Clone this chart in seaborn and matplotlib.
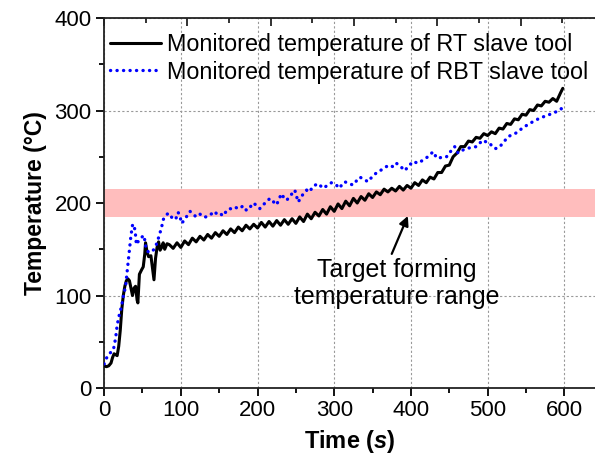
import matplotlib
matplotlib.use("Agg")
import matplotlib.pyplot as plt
import seaborn as sns
import pandas as pd
from matplotlib.ticker import MultipleLocator

# ---- data ----
rt_time = [0, 3, 6, 9, 11, 13, 15, 17, 19, 21, 23, 25, 27, 29, 31, 33, 35, 37, 39, 41,
           43, 44, 46, 49, 51, 53, 54, 56, 58, 61, 63, 65, 67, 69, 71, 73, 75, 77, 79, 82,
           85, 90, 95, 100, 105, 110, 115, 120, 125, 130, 135, 140, 145, 150, 155, 160,
           165, 170, 175, 180, 185, 190, 195, 200, 205, 210, 215, 220, 225, 230, 235, 240,
           245, 250, 255, 260, 265, 270, 275, 280, 285, 290, 295, 300, 305, 310, 315, 320,
           325, 330, 335, 340, 345, 350, 355, 360, 365, 370, 375, 380, 385, 390, 395, 400,
           405, 410, 415, 420, 425, 430, 435, 440, 445, 450, 455, 460, 465, 470, 475, 480,
           485, 490, 495, 500, 505, 510, 515, 520, 525, 530, 535, 540, 545, 550, 555, 560,
           565, 570, 575, 580, 585, 590, 595, 598]
rt_temp = [24, 23, 24, 27, 33, 37, 36, 35, 45, 62, 85, 100, 110, 116, 118, 116, 108, 100, 108, 110,
           95, 92, 123, 128, 131, 145, 157, 147, 142, 143, 130, 117, 140, 152, 158, 149, 152, 157, 150, 156,
           155, 151, 157, 152, 159, 155, 162, 158, 164, 160, 166, 162, 168, 164, 170, 166,
           172, 168, 174, 170, 176, 172, 177, 173, 179, 174, 180, 175, 181, 176, 182, 177,
           183, 178, 185, 180, 188, 183, 190, 186, 193, 188, 196, 191, 199, 194, 202, 197,
           205, 200, 207, 203, 210, 206, 212, 209, 215, 212, 216, 213, 218, 214, 219, 216,
           222, 219, 225, 222, 228, 226, 233, 233, 240, 241, 250, 254, 261, 261, 267, 266,
           271, 270, 275, 273, 277, 275, 281, 280, 286, 285, 291, 290, 296, 295, 301, 300,
           306, 305, 310, 309, 313, 310, 319, 324]

rbt_time = [0, 4, 8, 12, 15, 17, 20, 22.6, 25, 28, 30, 32.6, 35, 37, 39, 41, 42, 44, 46.5, 49,
            52, 55, 58, 62, 65, 68, 70, 72.6, 75, 77, 80, 83.5, 87, 90, 94, 96.5, 99, 101, 105, 108,
            112, 116, 120, 125, 129, 133.5, 138, 144, 147, 151, 155, 160, 164, 168, 172, 177, 181,
            185.7, 190, 194, 198, 203, 207, 211.7, 216, 220, 224.8, 228, 231, 235, 238, 243, 248.6,
            253, 258, 264, 268, 272, 279, 285.5, 291, 296.5, 302, 307, 310, 313.7, 319, 324.6, 329,
            333.4, 338, 344, 350, 357, 362, 367, 372.5, 377, 381, 386, 392, 397, 403, 409, 416, 422,
            429, 432, 435.5, 441, 446.4, 451, 457, 461.5, 467, 472.5, 479, 485.5, 490, 494, 498, 503,
            506, 509, 512, 516, 520, 524, 527, 533, 540, 545, 551, 557, 564, 568, 572, 578, 585.5,
            590, 596, 600]
rbt_temp = [26, 34, 38, 41, 54, 68, 80, 88, 99, 110, 126, 146, 165, 176, 177, 165, 155, 158, 160, 163,
            165, 149, 147, 147, 150, 155, 160, 167, 174, 182, 186, 189, 186, 182, 184, 190, 185, 178, 182, 186,
            191, 188, 185, 188, 185, 185, 187, 191, 188, 189, 186, 192, 194, 193, 195, 194, 197,
            192, 195, 200, 198, 194, 198, 201, 205, 202, 198, 204, 210, 205, 203, 208, 214,
            201, 208, 214, 212, 218, 221, 216, 219, 222, 220, 216, 220, 223, 221, 219.5, 224,
            228, 226, 223, 229, 234, 236, 239, 241, 239, 243, 240, 235, 240, 245, 243, 246.5, 250,
            255.5, 251, 248, 250, 250, 255, 261, 254, 257, 259, 260, 261, 265, 268, 266, 264.5,
            261, 259, 259, 261, 265, 269, 272, 274, 277, 281, 284, 287, 290, 292, 293, 295, 297,
            299, 302, 300]

legend_labels = ["Monitored temperature of RT slave tool",
                 "Monitored temperature of RBT slave tool"]
band_low, band_high = 185, 215
annotation_text = "Target forming\ntemperature range"

# ---- style ----
sns.set_style("ticks")
plt.rcParams['font.family'] = ['Liberation Sans', 'DejaVu Sans']
plt.rcParams['mathtext.fontset'] = 'custom'
plt.rcParams['mathtext.it'] = 'Liberation Sans:italic:bold'
plt.rcParams['mathtext.rm'] = 'Liberation Sans:bold'
plt.rcParams['text.color'] = 'black'
plt.rcParams['axes.labelcolor'] = 'black'

fig = plt.figure(figsize=(5.95, 4.63), dpi=100)
ax = fig.add_axes([0.175, 0.162, 0.825, 0.799])

df_rt = pd.DataFrame({"t": rt_time, "T": rt_temp})
df_rbt = pd.DataFrame({"t": rbt_time, "T": rbt_temp})

ax.axhspan(band_low, band_high, color='#ffbdbd', lw=0, zorder=1)

sns.lineplot(data=df_rt, x="t", y="T", ax=ax, color='black', lw=2.2,
             label=legend_labels[0], sort=False, zorder=3, estimator=None)
sns.lineplot(data=df_rbt, x="t", y="T", ax=ax, color='#0000ff', lw=2.4,
             label=legend_labels[1], sort=False, zorder=4, estimator=None)
blue_line = ax.get_lines()[-1]
blue_line.set_linestyle((0, (0.05, 1.9)))
blue_line.set_dash_capstyle('round')

ax.set_xlim(0, 640)
ax.set_ylim(0, 400)
ax.xaxis.set_major_locator(MultipleLocator(100))
ax.xaxis.set_minor_locator(MultipleLocator(50))
ax.yaxis.set_major_locator(MultipleLocator(100))
ax.yaxis.set_minor_locator(MultipleLocator(50))
ax.tick_params(axis='both', which='major', labelsize=16, length=6, width=1.3,
               direction='out', pad=3, colors='black')
ax.tick_params(axis='both', which='minor', length=3.5, width=1.3, direction='out', colors='black')
ax.grid(True, which='major', color='#999999', lw=0.8, ls=(0, (2, 2)))
for s in ['left', 'bottom', 'top']:
    ax.spines[s].set_linewidth(1.3)
    ax.spines[s].set_color('#222222')
ax.spines['right'].set_visible(False)

# top axis ticks (inward, no labels)
top = ax.twiny()
top.set_xlim(0, 589)
top.xaxis.set_major_locator(MultipleLocator(100))
top.xaxis.set_minor_locator(MultipleLocator(50))
top.tick_params(axis='x', which='major', direction='in', length=6, width=1.3,
                labeltop=False, colors='#222222')
top.tick_params(axis='x', which='minor', direction='in', length=3.5, width=1.3, colors='#222222')
for s in top.spines.values():
    s.set_visible(False)

ax.set_xlabel("Time ($s$)", fontsize=17, fontweight='bold', labelpad=5)
ax.set_ylabel("Temperature (°C)", fontsize=16.5, fontweight='bold', labelpad=5)

ax.text(382, 113, annotation_text, ha='center', va='center', fontsize=18,
        linespacing=1.12, zorder=5)
ax.annotate("", xy=(396, 186), xytext=(375, 145),
            arrowprops=dict(arrowstyle='-|>', color='black', lw=1.6,
                            mutation_scale=14, shrinkA=0, shrinkB=0), zorder=5)

leg = ax.legend(loc='upper left', bbox_to_anchor=(0.012, 0.96), frameon=False,
                fontsize=16.8, handlelength=2.2, handletextpad=0.25,
                borderaxespad=0.0, borderpad=0.0, labelspacing=0.2)

fig.savefig("out.png", dpi=100)
